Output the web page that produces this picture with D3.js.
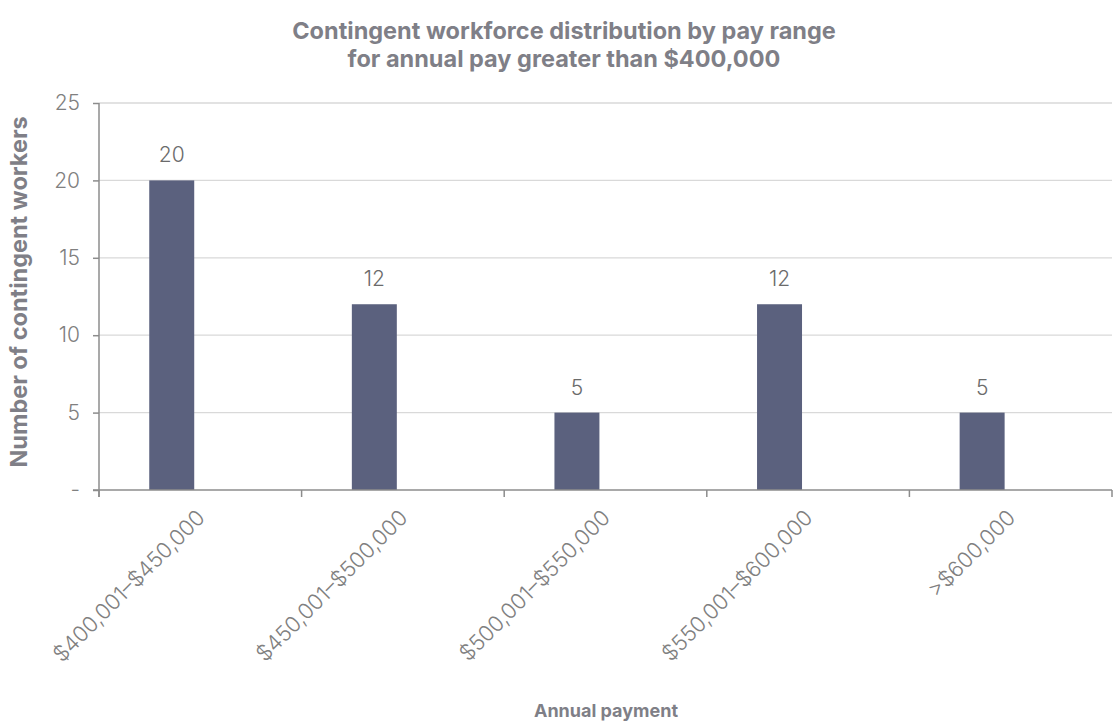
<!DOCTYPE html>
<html>
<head>
<meta charset="utf-8">
<script src="https://cdn.jsdelivr.net/npm/d3@7"></script>
<style>
  body { margin: 0; background: #fff; }
  text { font-family: Inter, "Open Sans", sans-serif; }
</style>
</head>
<body>
<svg id="chart" width="1115" height="722"></svg>
<script>
// pay ranges and counts
var payRanges = ["$400,001\u2013$450,000", "$450,001\u2013$500,000", "$500,001\u2013$550,000", "$550,001\u2013$600,000", ">$600,000"];
var workerCounts = [20, 12, 5, 12, 5];
var yTicks = [0, 5, 10, 15, 20, 25];
var titleLines = ["Contingent workforce distribution by pay range", "for annual pay greater than $400,000"];

var width = 1115, height = 722;
var margin = { top: 103, right: 3, bottom: 232, left: 99 };
var textColor = "#808080";

var svg = d3.select("#chart");

var x = d3.scaleBand()
    .domain(payRanges)
    .range([margin.left, width - margin.right]);

var y = d3.scaleLinear()
    .domain([0, 25])
    .range([height - margin.bottom, margin.top]);

// gridlines
svg.append("g")
    .selectAll("line")
    .data(yTicks.slice(1))
    .join("line")
    .attr("x1", margin.left)
    .attr("x2", width - margin.right)
    .attr("y1", function (d) { return y(d); })
    .attr("y2", function (d) { return y(d); })
    .attr("stroke", "#d9d9d9")
    .attr("stroke-width", 1.3);

// bars (left slot of each category)
var data = payRanges.map(function (c, i) { return { cat: c, value: workerCounts[i] }; });
svg.append("g")
    .attr("fill", "#5b617e")
    .selectAll("rect")
    .data(data)
    .join("rect")
    .attr("x", function (d) { return x(d.cat) + x.bandwidth() * 0.248; })
    .attr("width", x.bandwidth() * 0.222)
    .attr("y", function (d) { return y(d.value); })
    .attr("height", function (d) { return y(0) - y(d.value); });

// data labels
svg.append("g")
    .selectAll("text")
    .data(data)
    .join("text")
    .attr("x", function (d) { return x(d.cat) + x.bandwidth() * 0.359; })
    .attr("y", function (d) { return y(d.value) - 18; })
    .attr("text-anchor", "middle")
    .attr("font-size", "21px")
    .attr("font-weight", 300)
    .attr("fill", "#6b6b6b")
    .text(function (d) { return d.value; });

// y axis
var yAxis = d3.axisLeft(y)
    .tickValues(yTicks)
    .tickSize(6)
    .tickSizeOuter(0)
    .tickPadding(13)
    .tickFormat(function (d) { return d === 0 ? "-" : d; });
var gy = svg.append("g")
    .attr("transform", "translate(" + margin.left + ",0)")
    .call(yAxis);
gy.selectAll(".tick text").attr("font-size", "21px").attr("font-weight", 300).attr("fill", textColor);
gy.selectAll("line, path").attr("stroke", "#8c8c8c").attr("stroke-width", 1.5);
gy.select(".domain").attr("d", "M0," + y(25) + "V" + (y(0) + 7));

// x axis with ticks at category boundaries
var bounds = payRanges.map(function (c) { return x(c); }).concat([width - margin.right]);
var gx = svg.append("g");
gx.append("line")
    .attr("x1", margin.left - 6)
    .attr("x2", width - margin.right)
    .attr("y1", y(0))
    .attr("y2", y(0))
    .attr("stroke", "#8c8c8c")
    .attr("stroke-width", 1.5);
gx.selectAll(".bt")
    .data(bounds)
    .join("line")
    .attr("class", "bt")
    .attr("x1", function (d) { return d; })
    .attr("x2", function (d) { return d; })
    .attr("y1", y(0))
    .attr("y2", y(0) + 7)
    .attr("stroke", "#8c8c8c")
    .attr("stroke-width", 1.5);
gx.selectAll(".xl")
    .data(payRanges)
    .join("text")
    .attr("class", "xl")
    .attr("transform", function (d) {
        return "translate(" + (x(d) + x.bandwidth() / 2 + 6) + "," + (y(0) + 29) + ") rotate(-45)";
    })
    .attr("text-anchor", "end")
    .attr("font-size", "21.7px")
    .attr("font-weight", 300)
    .attr("fill", textColor)
    .text(function (d) { return d; });

// titles
svg.append("g")
    .selectAll("text")
    .data(titleLines)
    .join("text")
    .attr("x", 564)
    .attr("y", function (d, i) { return 39 + i * 28; })
    .attr("text-anchor", "middle")
    .attr("font-size", "23.5px")
    .attr("font-weight", "bold")
    .attr("fill", "#7f7f87")
    .text(function (d) { return d; });

svg.append("text")
    .attr("transform", "translate(27,292) rotate(-90)")
    .attr("text-anchor", "middle")
    .attr("font-size", "23.5px")
    .attr("font-weight", "bold")
    .attr("fill", "#7f7f87")
    .text("Number of contingent workers");

svg.append("text")
    .attr("x", 606)
    .attr("y", 717)
    .attr("text-anchor", "middle")
    .attr("font-size", "18px")
    .attr("font-weight", "bold")
    .attr("fill", "#7f7f87")
    .text("Annual payment");
</script>
</body>
</html>
